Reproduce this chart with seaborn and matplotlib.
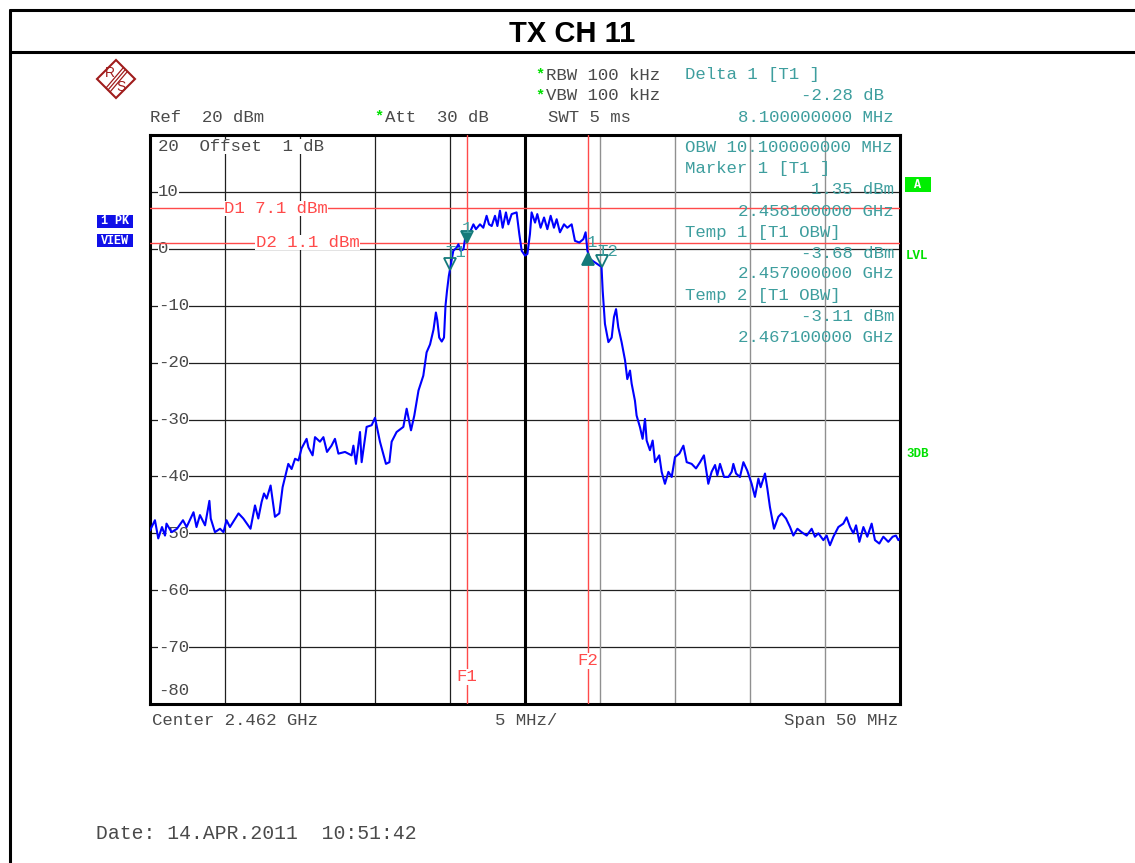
import numpy as np
import pandas as pd
import matplotlib
matplotlib.use("Agg")
import matplotlib.pyplot as plt
from matplotlib.lines import Line2D
from matplotlib.patches import Polygon, Rectangle
import seaborn as sns

# trace: offset from centre (MHz) and level (dBm)
freq_mhz = [-25.0, -24.67, -24.45, -24.2, -24.0, -23.9, -23.56, -23.2, -22.8, -22.56,
            -22.1, -21.9, -21.67, -21.33, -21.04, -20.95, -20.67, -20.33, -20.1, -19.9,
            -19.67, -19.1, -18.78, -18.3, -18.0, -17.78, -17.56, -17.4, -17.22, -16.96,
            -16.67, -16.38, -16.16, -15.78, -15.56, -15.33, -15.1, -14.9, -14.56, -14.44,
            -14.16, -14.0, -13.67, -13.44, -13.2, -12.9, -12.67, -12.44, -12.0, -11.56,
            -11.44, -11.27, -11.0, -10.89, -10.56, -10.22, -10.0, -9.67, -9.27, -9.04,
            -8.89, -8.56, -8.11, -7.89, -7.6, -7.38, -7.1, -6.78, -6.56, -6.33,
            -6.1, -5.94, -5.85, -5.72, -5.55, -5.4, -5.3, -5.2, -5.08, -5.0,
            -4.78, -4.56, -4.44, -4.29, -4.1, -4.0, -3.9, -3.67, -3.44, -3.27,
            -3.0, -2.78, -2.56, -2.4, -2.22, -2.0, -1.84, -1.67, -1.49, -1.27,
            -1.11, -0.89, -0.56, -0.38, -0.22, 0.0, 0.16, 0.33, 0.44, 0.67,
            0.82, 1.04, 1.27, 1.49, 1.71, 1.93, 2.11, 2.33, 2.6, 2.82,
            3.11, 3.33, 3.62, 3.89, 4.04, 4.16, 4.33, 4.67, 5.0, 5.1,
            5.18, 5.33, 5.56, 5.78, 5.93, 6.07, 6.22, 6.44, 6.67, 6.82,
            7.0, 7.11, 7.33, 7.44, 7.67, 7.84, 8.0, 8.11, 8.33, 8.51,
            8.67, 8.95, 9.11, 9.33, 9.56, 9.78, 10.0, 10.29, 10.56, 10.78,
            11.11, 11.4, 11.67, 11.93, 12.22, 12.44, 12.67, 12.82, 13.0, 13.27,
            13.56, 13.78, 13.89, 14.07, 14.33, 14.56, 14.82, 15.11, 15.33, 15.56,
            15.71, 16.0, 16.16, 16.33, 16.6, 16.89, 17.11, 17.4, 17.67, 17.89,
            18.16, 18.44, 18.78, 19.11, 19.33, 19.56, 19.89, 20.11, 20.33, 20.56,
            20.89, 21.22, 21.44, 21.67, 21.89, 22.07, 22.29, 22.56, 22.82, 23.11,
            23.33, 23.62, 23.89, 24.22, 24.51, 24.73, 24.89, 25.0]
level_dbm = [-49.5, -47.7, -50.9, -48.9, -50.4, -48.3, -49.8, -49.2, -47.7, -48.9,
             -46.3, -48.9, -46.8, -48.6, -44.3, -47.4, -49.8, -49.2, -49.8, -47.7,
             -48.9, -46.5, -47.4, -49.2, -45.1, -47.4, -44.5, -43.0, -43.9, -41.6,
             -47.1, -46.5, -41.9, -37.8, -38.7, -36.9, -37.2, -35.1, -33.4, -34.9,
             -36.3, -33.1, -33.9, -33.1, -35.7, -34.6, -33.4, -36.0, -35.7, -36.3,
             -34.6, -37.8, -32.2, -37.5, -31.3, -31.0, -29.7, -33.9, -37.8, -37.5,
             -33.9, -32.2, -31.3, -28.1, -31.9, -29.3, -24.9, -22.3, -18.2, -16.8,
             -14.2, -11.2, -12.5, -15.6, -16.3, -15.6, -10.0, -7.4, -4.8, -3.6,
             -0.35, 0.2, 0.8, -0.35, -0.06, 1.7, 2.6, 2.9, 4.3, 3.45,
             4.3, 3.7, 5.8, 4.3, 4.0, 5.8, 4.0, 6.7, 3.7, 6.4,
             4.3, 6.1, 6.4, 2.6, -0.35, -1.2, -0.9, 2.6, 6.4, 4.6,
             6.1, 3.7, 5.5, 3.45, 5.8, 3.7, 5.2, 2.9, 4.3, 3.7,
             4.3, 1.4, 1.1, 1.7, 2.9, -0.35, -1.8, -2.4, -3.0, -3.11,
             -7.4, -13.2, -16.4, -15.6, -12.0, -10.6, -13.8, -16.4, -19.6, -22.9,
             -21.4, -23.7, -26.7, -29.3, -31.4, -33.4, -29.9, -33.7, -35.4, -33.7,
             -37.5, -36.3, -39.2, -41.3, -39.2, -40.1, -36.6, -36.0, -34.6, -37.5,
             -37.8, -38.6, -37.5, -36.3, -41.3, -39.2, -38.0, -39.8, -37.8, -40.1,
             -40.1, -39.2, -37.8, -39.5, -40.1, -37.5, -39.0, -41.3, -43.6, -40.4,
             -41.9, -39.5, -42.2, -45.4, -49.2, -47.1, -46.5, -47.4, -48.9, -50.4,
             -49.2, -49.8, -50.4, -49.2, -50.6, -50.0, -51.2, -50.4, -52.1, -50.6,
             -48.9, -48.3, -47.2, -48.9, -50.0, -48.6, -51.5, -48.9, -50.6, -48.3,
             -51.2, -51.8, -50.6, -51.5, -50.6, -50.4, -51.2, -50.9]

# display lines / frequency lines
display_names = ["D1", "D2"]
display_levels = [7.1, 1.1]
freq_line_names = ["F1", "F2"]
freq_line_pos = [-3.9, 4.2]

# markers: name, offset (MHz), level (dBm)
marker_names = ["1", "1", "T1", "T2"]
marker_freq = [-3.9, 4.2, -5.0, 5.1]
marker_level = [1.35, -0.93, -3.68, -3.11]

y_tick_values = [20, 10, 0, -10, -20, -30, -40, -50, -60, -70, -80]

info_lines = ["OBW 10.100000000 MHz", "Marker 1 [T1 ]", "1.35 dBm", "2.458100000 GHz",
              "Temp 1 [T1 OBW]", "-3.68 dBm", "2.457000000 GHz",
              "Temp 2 [T1 OBW]", "-3.11 dBm", "2.467100000 GHz"]

W, H = 1135, 863
sns.set_style("white")
plt.rcParams['font.family'] = ['Liberation Mono', 'DejaVu Sans Mono']

GREY = '#4a4a4a'
TEAL = '#3e9e9e'
MTEAL = '#147a7a'
RED = '#ff4a4a'
GREEN = '#00e000'
BLUE = '#1010e8'
FS = 12.5


def fx(x):
    return x / W


def fy(y):
    return 1 - y / H


fig = plt.figure(figsize=(W / 100, H / 100), dpi=100)
ax = fig.add_axes([fx(150), fy(704), 750 / W, 569 / H])

df = pd.DataFrame({'freq': freq_mhz, 'level': level_dbm})
sns.lineplot(data=df, x='freq', y='level', ax=ax, color='#0000ff', lw=1.5,
             estimator=None, sort=False, zorder=5)

ax.set_xlim(-25, 25)
ax.set_ylim(-80, 20)
ax.set_xticks([])
ax.set_yticks([])
ax.set_xlabel('')
ax.set_ylabel('')
for s in ax.spines.values():
    s.set_linewidth(2.2)
    s.set_color('black')

# grid
for v in range(10, -80, -10):
    ax.axhline(v, color='#202020', lw=0.9, zorder=1)
for v in [-20, -15, -10, -5]:
    ax.axvline(v, color='#202020', lw=0.9, zorder=1)
for v in [5, 10, 15, 20]:
    ax.axvline(v, color='#909090', lw=1.0, zorder=1)
ax.axvline(0, color='black', lw=2.2, zorder=2)

# y labels on the grid
for v in y_tick_values:
    yy = v
    if v == 20:
        yy = 18
    elif v == -80:
        yy = -77.7
    txt = str(v)
    if v == 20:
        txt = "20  Offset  1 dB"
    ax.text(-24.47, yy, txt, ha='left', va='center', fontsize=FS, color=GREY,
            zorder=3, bbox=dict(facecolor='white', edgecolor='none', pad=0.3))

# display lines
dl_label_x = [-16.6, -14.5]
for name, lev, lx in zip(display_names, display_levels, dl_label_x):
    ax.axhline(lev, color=RED, lw=1.0, zorder=3)
    ax.text(lx, lev, f"{name} {lev} dBm", ha='center', va='center', fontsize=FS,
            color=RED, zorder=4, bbox=dict(facecolor='white', edgecolor='none', pad=0.2))

fl_label_y = [-75.2, -72.4]
for name, pos, ly in zip(freq_line_names, freq_line_pos, fl_label_y):
    ax.axvline(pos, color=RED, lw=1.0, zorder=3)
    ax.text(pos, ly, name, ha='center', va='center', fontsize=FS, color=RED,
            zorder=4, bbox=dict(facecolor='white', edgecolor='none', pad=0.2))

# markers
m_style = [('v', MTEAL, MTEAL, 0.8), ('^', MTEAL, MTEAL, -0.9),
           ('v', 'none', MTEAL, 1.0), ('v', 'none', MTEAL, 0.9)]
lab_off = [(0.0, 2.3), (0.25, 2.0), (0.35, 3.0), (0.4, 2.6)]
for name, f, lev, st, lo in zip(marker_names, marker_freq, marker_level, m_style, lab_off):
    mk, fc, ec, off = st
    ax.plot([f], [lev + off], marker=mk, markersize=8, markerfacecolor=fc,
            markeredgecolor=ec, markeredgewidth=1.3, zorder=6, linestyle='none')
    ax.text(f + lo[0], lev + lo[1], name, ha='center', va='center', fontsize=FS,
            color=TEAL, zorder=6)

# marker info block (right side of the screen)
info_y = [147, 169, 190, 211, 232, 253, 273, 295, 316, 337]
for t, y in zip(info_lines, info_y):
    if t[0].isalpha():
        fig.text(fx(685), fy(y), t, ha='left', va='center', fontsize=FS, color=TEAL, zorder=7)
    else:
        fig.text(fx(894), fy(y), t, ha='right', va='center', fontsize=FS, color=TEAL, zorder=7)

# header settings
fig.text(fx(546), fy(75), "RBW 100 kHz", ha='left', va='center', fontsize=FS, color=GREY)
fig.text(fx(546), fy(96), "VBW 100 kHz", ha='left', va='center', fontsize=FS, color=GREY)
fig.text(fx(150), fy(117), "Ref  20 dBm", ha='left', va='center', fontsize=FS, color=GREY)
fig.text(fx(385), fy(117), "Att  30 dB", ha='left', va='center', fontsize=FS, color=GREY)
fig.text(fx(548), fy(117), "SWT 5 ms", ha='left', va='center', fontsize=FS, color=GREY)
for sx, sy in [(540, 74), (540, 95), (379, 116)]:
    fig.text(fx(sx), fy(sy), "*", ha='center', va='center', fontsize=11,
             color=GREEN, fontweight='bold')
fig.text(fx(685), fy(75), "Delta 1 [T1 ]", ha='left', va='center', fontsize=FS, color=TEAL)
fig.text(fx(884), fy(96), "-2.28 dB", ha='right', va='center', fontsize=FS, color=TEAL)
fig.text(fx(894), fy(117), "8.100000000 MHz", ha='right', va='center', fontsize=FS, color=TEAL)

# bottom axis text
fig.text(fx(152), fy(720), "Center 2.462 GHz", ha='left', va='center', fontsize=FS, color=GREY)
fig.text(fx(495), fy(720), "5 MHz/", ha='left', va='center', fontsize=FS, color=GREY)
fig.text(fx(898), fy(720), "Span 50 MHz", ha='right', va='center', fontsize=FS, color=GREY)
fig.text(fx(96), fy(833), "Date: 14.APR.2011  10:51:42", ha='left', va='center',
         fontsize=14.2, color=GREY)

# left blue badges
for label, y0 in [("1 PK", 215), ("VIEW", 234)]:
    fig.add_artist(Rectangle((fx(97), fy(y0 + 13)), 36 / W, 13 / H, transform=fig.transFigure,
                             facecolor=BLUE, edgecolor='none'))
    fig.text(fx(115), fy(y0 + 6.5), label, ha='center', va='center', fontsize=8.5,
             color='white', fontweight='bold')

# right green flags
fig.add_artist(Rectangle((fx(905), fy(192)), 26 / W, 15 / H, transform=fig.transFigure,
                         facecolor='#00ee00', edgecolor='none'))
fig.text(fx(918), fy(184.5), "A", ha='center', va='center', fontsize=8.5,
         color='white', fontweight='bold')
fig.text(fx(906), fy(256), "LVL", ha='left', va='center', fontsize=9, color=GREEN,
         fontweight='bold')
fig.text(fx(906), fy(454), "3DB", ha='left', va='center', fontsize=9, color=GREEN,
         fontweight='bold')

# R&S logo
LOGO = '#a01c1c'
cx, cy = 116, 79
fig.add_artist(Polygon([(fx(cx - 19), fy(cy)), (fx(cx), fy(cy - 19)), (fx(cx + 19), fy(cy)),
                        (fx(cx), fy(cy + 19))], closed=True, transform=fig.transFigure,
                       facecolor='none', edgecolor=LOGO, lw=1.5))
for d in [-2, 0, 2]:
    fig.add_artist(Line2D([fx(cx + 9 + d), fx(cx - 8 + d)], [fy(cy - 9 + d), fy(cy + 11 + d)],
                          transform=fig.transFigure, color=LOGO, lw=0.9))
fig.text(fx(cx - 6), fy(cy - 6), "R", ha='center', va='center', fontsize=10, color=LOGO,
         family='Liberation Sans')
fig.text(fx(cx + 5), fy(cy + 8), "S", ha='center', va='center', fontsize=10, color=LOGO,
         family='Liberation Sans')

# page frame and title bar
for xs, ys in [([10, 10], [10, 863]), ([10, 1135], [10, 10]), ([10, 1135], [52, 52])]:
    fig.add_artist(Line2D([fx(v) for v in xs], [fy(v) for v in ys],
                          transform=fig.transFigure, color='black', lw=2.2))
fig.text(fx(572), fy(34), "TX CH 11", ha='center', va='center', fontsize=21,
         fontweight='bold', family='Liberation Sans', color='black')

fig.savefig('out.png', dpi=100, facecolor='white')
